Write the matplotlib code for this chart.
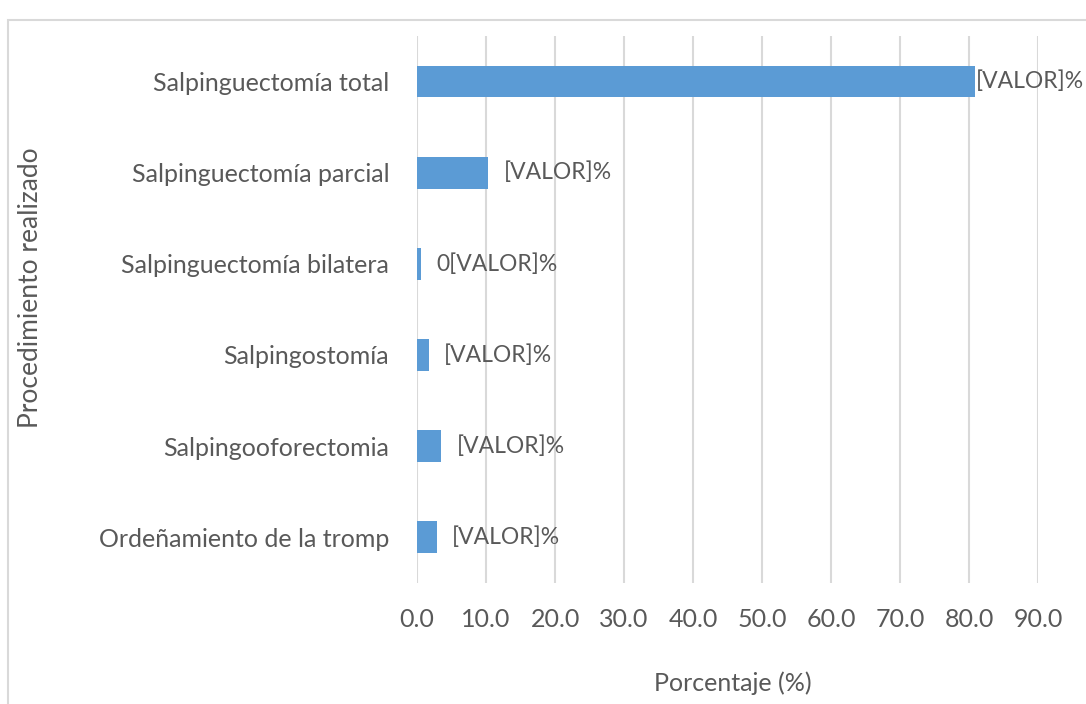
import matplotlib
matplotlib.use('Agg')
import matplotlib.pyplot as plt
from matplotlib.patches import Rectangle

# datos (de abajo hacia arriba)
procedimientos = ['Ordeñamiento de la tromp', 'Salpingooforectomia', 'Salpingostomía',
                  'Salpinguectomía bilatera', 'Salpinguectomía parcial', 'Salpinguectomía total']
porcentajes = [2.9, 3.5, 1.7, 0.6, 10.3, 80.9]
etiquetas = ['[VALOR]%', '[VALOR]%', '[VALOR]%', '0[VALOR]%', '[VALOR]%', '[VALOR]%']
ticks_x = [0, 10, 20, 30, 40, 50, 60, 70, 80, 90]

plt.rcParams['font.family'] = ['Lato', 'DejaVu Sans']
gris = '#595959'
fs = 18

fig = plt.figure(figsize=(10.86, 7.04), dpi=100)
ax = fig.add_axes([0.384, 0.172, 0.572, 0.777])

# marco del área del gráfico
fig.patches.append(Rectangle((8 / 1086, -0.01), 1.1, (704 - 20) / 704 + 0.01,
                             transform=fig.transFigure, fill=False,
                             edgecolor='#d9d9d9', linewidth=1.5))

y = range(len(procedimientos))
ax.barh(y, porcentajes, height=0.35, color='#5b9bd5', zorder=3)

for i, (v, txt) in enumerate(zip(porcentajes, etiquetas)):
    off = 0.5 if v > 50 else 11
    ax.annotate(txt, (v, i), xytext=(off, 0), textcoords='offset points',
                va='center', ha='left', fontsize=16.5, color=gris, clip_on=False)

ax.set_xlim(0, 90)
ax.set_ylim(-0.5, len(procedimientos) - 0.5)
ax.set_xticks(ticks_x)
ax.set_xticklabels([f'{t:.1f}' for t in ticks_x])
ax.set_yticks(list(y))
ax.set_yticklabels(procedimientos)
ax.tick_params(axis='both', length=0, labelsize=fs, colors=gris)
ax.tick_params(axis='x', pad=18)
ax.tick_params(axis='y', pad=20)
ax.grid(axis='x', color='#d9d9d9', linewidth=1.5, zorder=0)
for s in ax.spines.values():
    s.set_visible(False)

fig.text(733 / 1086, 1 - 683 / 704, 'Porcentaje (%)', ha='center', va='center',
         fontsize=fs, color=gris)
fig.text(31 / 1086, 1 - 288 / 704, 'Procedimiento realizado', rotation=90,
         ha='center', va='center', fontsize=19, color=gris)

fig.savefig('out.png', dpi=100)
